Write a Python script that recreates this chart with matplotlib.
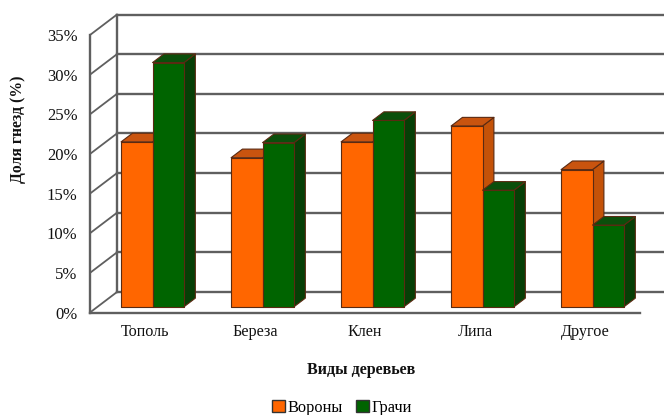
import matplotlib
matplotlib.use("Agg")
import matplotlib.pyplot as plt
from matplotlib.patches import Polygon, Patch

plt.rcParams["font.family"] = ["Liberation Serif", "DejaVu Serif"]

categories = ["Тополь", "Береза", "Клен", "Липа", "Другое"]
crows = [20.8, 18.8, 20.8, 22.8, 17.3]
rooks = [30.8, 20.7, 23.5, 14.7, 10.3]
y_ticks = [0, 5, 10, 15, 20, 25, 30, 35]

W, H = 664, 415
# Projection of the depth axis, in data units per unit of depth
DX = 27 / 110.0
DY = 20.5 / 7.93
GRID = "#5f5f5f"
EDGE = "#5a2a12"
BAR_W = 0.286
Z0, Z1 = 0.28, 0.70

ORANGE = ("#ff6600", "#c9540f", "#c45208")
GREEN = ("#006400", "#0b4f0b", "#063f06")

fig = plt.figure(figsize=(W / 100, H / 100), dpi=100)
ax = fig.add_axes([90 / W, 1 - 312.5 / H, 550 / W, 277.5 / H])
ax.set_xlim(-0.5, 4.5)
ax.set_ylim(0, 35)
ax.patch.set_alpha(0)


def wall_lines():
    for v in y_ticks:
        ax.plot([-0.5, -0.5 + DX], [v, v + DY], color=GRID, lw=1.3,
                clip_on=False, zorder=1, solid_capstyle="round")
        ax.plot([-0.5 + DX, 4.8], [v + DY, v + DY], color=GRID, lw=1.7,
                clip_on=False, zorder=1)
    ax.plot([-0.5 + DX] * 2, [DY, 35 + DY], color=GRID, lw=1.7,
            clip_on=False, zorder=1)


def bar3d(x, value, colors, order):
    left = x + Z0 * DX
    base = Z0 * DY
    right = left + BAR_W
    ddx = (Z1 - Z0) * DX
    ddy = (Z1 - Z0) * DY
    top = base + value
    style = dict(ec=EDGE, lw=0.8, joinstyle="round", clip_on=False, zorder=order)
    ax.add_patch(Polygon([(right, base), (right + ddx, base + ddy),
                          (right + ddx, top + ddy), (right, top)],
                         fc=colors[2], **style))
    ax.add_patch(Polygon([(left, top), (right, top),
                          (right + ddx, top + ddy), (left + ddx, top + ddy)],
                         fc=colors[1], **style))
    ax.add_patch(Polygon([(left, base), (right, base), (right, top), (left, top)],
                         fc=colors[0], **style))


wall_lines()
for i, (a, b) in enumerate(zip(crows, rooks)):
    bar3d(i - BAR_W, a, ORANGE, 3 + i * 2)
    bar3d(i, b, GREEN, 4 + i * 2)

for side in ("top", "right"):
    ax.spines[side].set_visible(False)
for side in ("left", "bottom"):
    ax.spines[side].set_color(GRID)
    ax.spines[side].set_linewidth(1.7)

ax.set_yticks(y_ticks)
ax.set_yticklabels([f"{v}%" for v in y_ticks], fontsize=12, color="#111111")
ax.set_xticks(range(len(categories)))
ax.set_xticklabels(categories, fontsize=11.6, color="#111111")
ax.tick_params(axis="y", length=0, pad=9)
ax.tick_params(axis="x", length=0, pad=8)

fig.text(18 / W, 1 - 129 / H, "Доля гнезд (%)", rotation=90, ha="center",
         va="center", fontsize=11.3, fontweight="bold", color="#111111")
fig.text(361 / W, 1 - 370 / H, "Виды деревьев", ha="center", va="center",
         fontsize=11.5, fontweight="bold", color="#111111")

handles = [Patch(fc=ORANGE[0], ec="#333333", lw=1, label="Вороны"),
           Patch(fc=GREEN[0], ec="#333333", lw=1, label="Грачи")]
fig.legend(handles=handles, loc="center", bbox_to_anchor=(342 / W, 1 - 408 / H),
           ncol=2, frameon=False, fontsize=11.8, handlelength=0.75, handleheight=0.75,
           handletextpad=0.15, columnspacing=0.85, borderpad=0)

fig.savefig("out.png", dpi=100)
